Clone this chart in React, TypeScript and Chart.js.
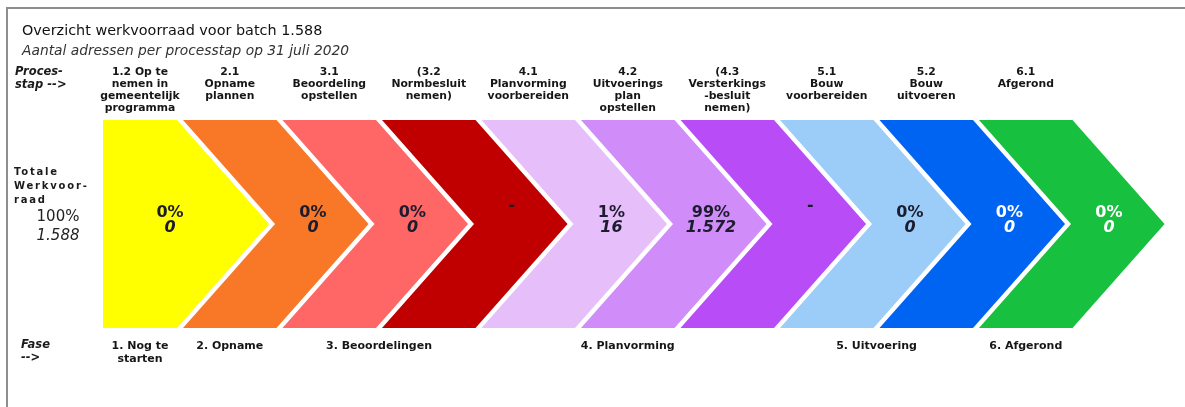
import React, { useEffect, useRef } from 'react';
import { Chart, registerables } from 'chart.js';

Chart.register(...registerables);

// ---- data ----
const titleText = 'Overzicht werkvoorraad voor batch 1.588';
const subtitleText = 'Aantal adressen per processtap op 31 juli 2020';
const stepLabels: string[][] = [
  ['1.2 Op te', 'nemen in', 'gemeentelijk', 'programma'],
  ['2.1', 'Opname', 'plannen'],
  ['3.1', 'Beoordeling', 'opstellen'],
  ['(3.2', 'Normbesluit', 'nemen)'],
  ['4.1', 'Planvorming', 'voorbereiden'],
  ['4.2', 'Uitvoerings', 'plan', 'opstellen'],
  ['(4.3', 'Versterkings', '-besluit', 'nemen)'],
  ['5.1', 'Bouw', 'voorbereiden'],
  ['5.2', 'Bouw', 'uitvoeren'],
  ['6.1', 'Afgerond'],
];
const stepPercent: (number | null)[] = [0, 0, 0, null, 1, 99, null, 0, 0, 0];
const stepCount: (number | null)[] = [0, 0, 0, null, 16, 1572, null, 0, 0, 0];
const totalCount = 1588;
const totalPercent = 100;
const phaseLabels: string[][] = [
  ['1. Nog te', 'starten'],
  ['2. Opname'],
  ['3. Beoordelingen'],
  ['4. Planvorming'],
  ['5. Uitvoering'],
  ['6. Afgerond'],
];
const phaseFirstStep = [0, 1, 2, 4, 7, 9];
const phaseLastStep = [0, 1, 3, 6, 8, 9];

// ---- styles ----
const stepColors = [
  '#FFFF00', '#F87828', '#FF6666', '#C00000', '#E6BEFA',
  '#D08CF8', '#B84DF8', '#9CCDF8', '#0064F2', '#18C040',
];
const stepTextColors = [
  '#1c1c2e', '#1c1c2e', '#1c1c2e', '#1c1c2e', '#1c1c2e',
  '#1c1c2e', '#1c1c2e', '#1c1c2e', '#ffffff', '#ffffff',
];
const FONT = '"DejaVu Sans", Verdana, sans-serif';

// geometry in step units (1 unit = one chevron pitch)
const W = 0.94; // top edge width
const D = 0.925; // arrow depth
const FIRST_LEFT = 0.196;
const X_MIN = -0.8392;
const X_MAX = 11.0704;
const Y_MIN = -1.7596;
const Y_MAX = 2.1538;

function chevronPoints(i: number) {
  const left = i === 0 ? FIRST_LEFT : i;
  const pts = [
    { x: left, y: 1 },
    { x: i + W, y: 1 },
    { x: i + W + D, y: 0 },
    { x: i + W, y: -1 },
    { x: left, y: -1 },
  ];
  if (i !== 0) pts.push({ x: i + D, y: 0 });
  return pts;
}

function topCenter(i: number) {
  const left = i === 0 ? FIRST_LEFT : i;
  return (left + i + W) / 2;
}

function valueCenter(i: number) {
  return i === 0 ? 0.87 : i + 1.306;
}

function fmt(n: number) {
  return String(n).replace(/\B(?=(\d{3})+(?!\d))/g, '.');
}

const textPlugin = {
  id: 'chevronTexts',
  afterDatasetsDraw(chart: any) {
    const { ctx } = chart;
    const xs = chart.scales.x;
    const ys = chart.scales.y;
    const px = (v: number) => xs.getPixelForValue(v);
    const py = (v: number) => ys.getPixelForValue(v);
    ctx.save();

    // frame
    ctx.fillStyle = '#8e8e8e';
    ctx.fillRect(6, 7, chart.width - 6, 2);
    ctx.fillRect(6, 7, 2, chart.height - 7);

    ctx.textBaseline = 'middle';
    // title
    ctx.textAlign = 'left';
    ctx.fillStyle = '#111111';
    ctx.font = `14.4px ${FONT}`;
    ctx.fillText(titleText, 22, 31);
    ctx.fillStyle = '#333333';
    ctx.font = `italic 13.8px ${FONT}`;
    ctx.fillText(subtitleText, 22, 51);

    // row headers
    ctx.fillStyle = '#1a1a1a';
    ctx.font = `italic bold 11.5px ${FONT}`;
    ctx.fillText('Proces-', 15, 72);
    ctx.fillText('stap -->', 15, 85);
    ctx.fillText('Fase', 21, 345);
    ctx.fillText('-->', 21, 358);

    ctx.font = `bold 10px ${FONT}`;
    (ctx as any).letterSpacing = '1.8px';
    ctx.fillText('Totale', 14, 172);
    ctx.fillText('Werkvoor-', 14, 186);
    ctx.fillText('raad', 14, 200);
    (ctx as any).letterSpacing = '0px';

    ctx.textAlign = 'center';
    ctx.fillStyle = '#222222';
    ctx.font = `15px ${FONT}`;
    ctx.fillText(`${totalPercent}%`, 58, 217);
    ctx.font = `italic 15px ${FONT}`;
    ctx.fillText(fmt(totalCount), 58, 236);

    // step labels
    ctx.fillStyle = '#161616';
    ctx.font = `bold 10.8px ${FONT}`;
    stepLabels.forEach((lines, i) => {
      lines.forEach((t, k) => {
        ctx.fillText(t, px(topCenter(i)), 72 + k * 12.2);
      });
    });

    // values
    stepPercent.forEach((p, i) => {
      const cx = px(valueCenter(i));
      ctx.fillStyle = stepTextColors[i];
      if (p === null) {
        ctx.font = `bold 16px ${FONT}`;
        ctx.fillText('-', cx, py(0.17));
        return;
      }
      ctx.font = `bold 16px ${FONT}`;
      ctx.fillText(`${p}%`, cx, py(0.106));
      ctx.font = `italic bold 16px ${FONT}`;
      ctx.fillText(fmt(stepCount[i] as number), cx, py(-0.038));
    });

    // phases
    ctx.fillStyle = '#161616';
    ctx.font = `bold 11px ${FONT}`;
    phaseLabels.forEach((lines, j) => {
      const cx = px((topCenter(phaseFirstStep[j]) + topCenter(phaseLastStep[j])) / 2);
      lines.forEach((t, k) => ctx.fillText(t, cx, 346 + k * 13));
    });

    ctx.restore();
  },
};

export default function App() {
  const ref = useRef<HTMLCanvasElement | null>(null);
  useEffect(() => {
    if (!ref.current) return;
    const chart = new Chart(ref.current, {
      type: 'scatter',
      data: {
        datasets: stepColors.map((c, i) => ({
          label: stepLabels[i].join(' '),
          data: chevronPoints(i),
          showLine: true,
          fill: 'shape',
          backgroundColor: c,
          borderColor: 'rgba(0,0,0,0)',
          borderWidth: 0,
          pointRadius: 0,
          pointHoverRadius: 0,
          tension: 0,
        })) as any,
      },
      options: {
        animation: false,
        responsive: false,
        events: [],
        layout: { padding: 0 },
        scales: {
          x: { type: 'linear', min: X_MIN, max: X_MAX, display: false },
          y: { type: 'linear', min: Y_MIN, max: Y_MAX, display: false },
        },
        plugins: {
          legend: { display: false },
          tooltip: { enabled: false },
          title: { display: false },
        },
      },
      plugins: [textPlugin],
    });
    return () => chart.destroy();
  }, []);
  return (
    <div style={{ position: 'absolute', left: 0, top: 0, width: 1185, height: 407, background: '#ffffff' }}>
      <canvas ref={ref} width={1185} height={407} style={{ display: 'block' }} />
    </div>
  );
}
